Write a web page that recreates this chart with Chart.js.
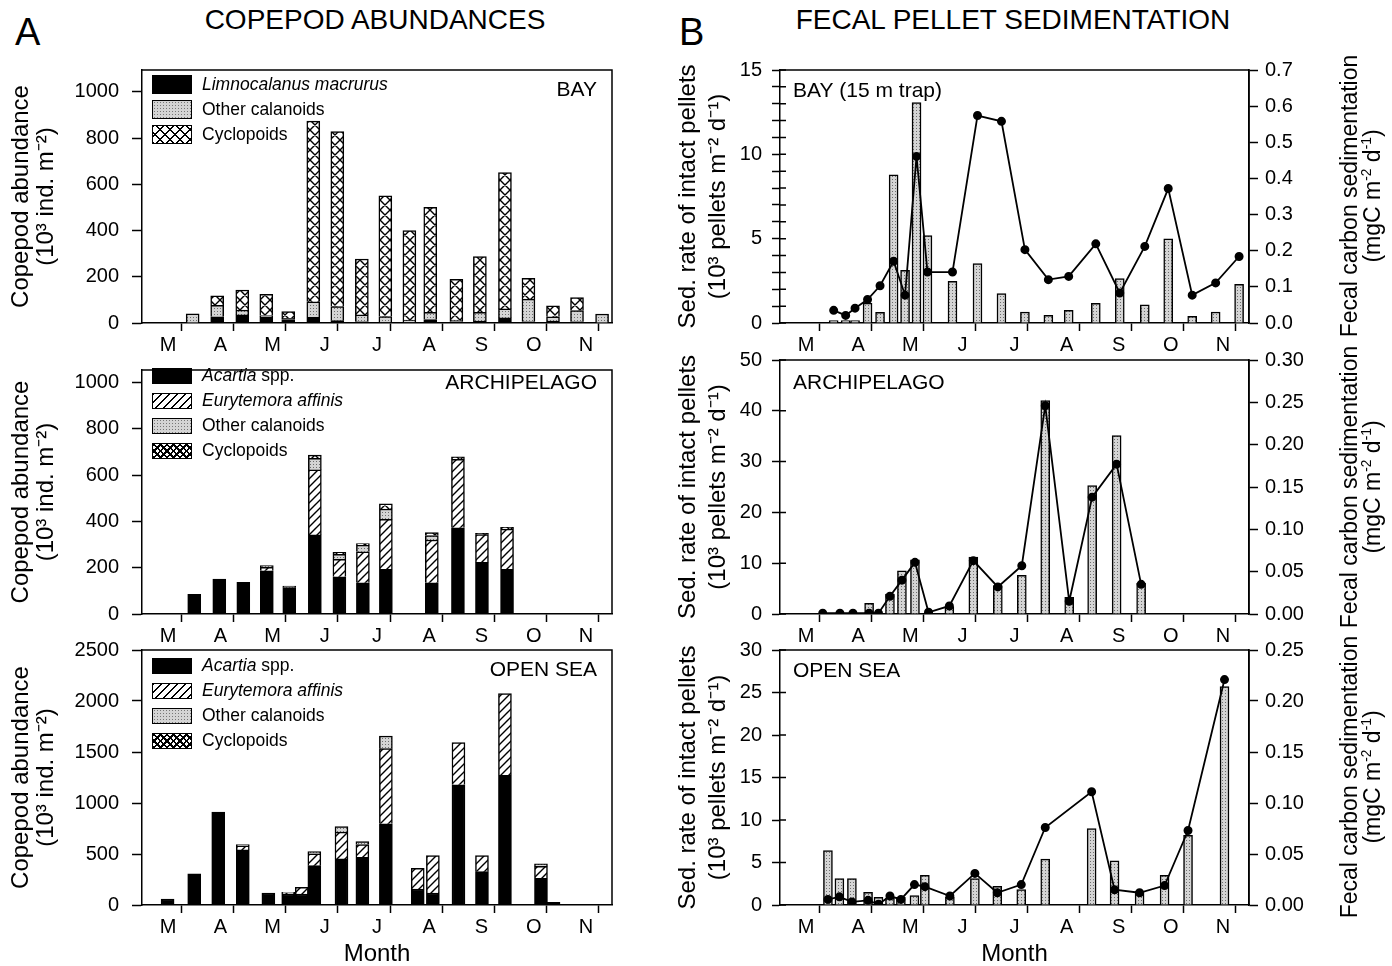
<!DOCTYPE html>
<html><head><meta charset="utf-8">
<script src="https://cdn.jsdelivr.net/npm/chart.js@4.4.1/dist/chart.umd.min.js"></script>
<style>
body{margin:0;background:#fff;width:1392px;height:966px;position:relative;overflow:hidden;font-family:"Liberation Sans",Arial,sans-serif;color:#000}
canvas{position:absolute}
.t{position:absolute;white-space:nowrap;line-height:1}
.rt{position:absolute;transform:translate(-50%,-50%) rotate(-90deg);font-size:23px;line-height:23px;text-align:center;white-space:nowrap}
sup{font-size:0.6em;vertical-align:0.65em;line-height:0}
.lg{position:absolute;left:152px}
.row{position:absolute;left:0;height:25px;display:flex;align-items:center;white-space:nowrap;font-size:17.5px}
.sw{width:38px;border:1.5px solid #000;margin-right:10px;box-sizing:content-box}
.s-black{background:#000}
.s-gray{background-color:#d4d4d4;background-image:radial-gradient(#777 0.6px,transparent 0.9px);background-size:3px 3px}
.s-hatch{background:repeating-linear-gradient(135deg,#000 0 1.4px,#fff 1.4px 5.6px)}
.s-cross{background:repeating-linear-gradient(45deg,#000 0 1.4px,transparent 1.4px 7px),repeating-linear-gradient(135deg,#000 0 1.4px,#fff 1.4px 7px)}
.s-cross2{background:repeating-linear-gradient(45deg,#000 0 2px,transparent 2px 4.6px),repeating-linear-gradient(135deg,#000 0 2px,#fff 2px 4.6px)}
</style>
</head><body>

<div class="t" style="left:15px;top:13px;font-size:38px">A</div>
<div class="t" style="left:679px;top:13px;font-size:38px">B</div>
<div class="t" style="left:375px;top:6px;font-size:28px;transform:translateX(-50%)">COPEPOD ABUNDANCES</div>
<div class="t" style="left:1013px;top:6px;font-size:28px;transform:translateX(-50%)">FECAL PELLET SEDIMENTATION</div>

<canvas id="a1" width="625" height="318" style="left:0;top:40px"></canvas>
<canvas id="a2" width="625" height="307" style="left:0;top:340px"></canvas>
<canvas id="a3" width="625" height="346" style="left:0;top:620px"></canvas>
<canvas id="b1" width="732" height="318" style="left:660px;top:40px"></canvas>
<canvas id="b2" width="732" height="317" style="left:660px;top:330px"></canvas>
<canvas id="b3" width="732" height="346" style="left:660px;top:620px"></canvas>

<div class="lg" style="top:72px">
  <div class="row" style="top:0"><div class="sw s-black" style="height:17px"></div><i>Limnocalanus macrurus</i></div>
  <div class="row" style="top:25px"><div class="sw s-gray" style="height:17px"></div>Other calanoids</div>
  <div class="row" style="top:50px"><div class="sw s-cross" style="height:17px"></div>Cyclopoids</div>
</div>
<div class="lg" style="top:363px">
  <div class="row" style="top:0"><div class="sw s-black" style="height:14px"></div><span><i>Acartia</i> spp.</span></div>
  <div class="row" style="top:25px"><div class="sw s-hatch" style="height:14px"></div><i>Eurytemora affinis</i></div>
  <div class="row" style="top:50px"><div class="sw s-gray" style="height:14px"></div>Other calanoids</div>
  <div class="row" style="top:75px"><div class="sw s-cross2" style="height:14px"></div>Cyclopoids</div>
</div>
<div class="lg" style="top:653px">
  <div class="row" style="top:0"><div class="sw s-black" style="height:14px"></div><span><i>Acartia</i> spp.</span></div>
  <div class="row" style="top:25px"><div class="sw s-hatch" style="height:14px"></div><i>Eurytemora affinis</i></div>
  <div class="row" style="top:50px"><div class="sw s-gray" style="height:14px"></div>Other calanoids</div>
  <div class="row" style="top:75px"><div class="sw s-cross2" style="height:14px"></div>Cyclopoids</div>
</div>

<div class="rt" style="left:1361px;top:196px">Fecal carbon sedimentation<br>(mgC m<sup>-2</sup> d<sup>-1</sup>)</div>
<div class="rt" style="left:1361px;top:487px">Fecal carbon sedimentation<br>(mgC m<sup>-2</sup> d<sup>-1</sup>)</div>
<div class="rt" style="left:1361px;top:777px">Fecal carbon sedimentation<br>(mgC m<sup>-2</sup> d<sup>-1</sup>)</div>

<script>
// ---------- data (x = months since 1 March) ----------
const monthLabels = ['M','A','M','J','J','A','S','O','N'];

// A — BAY copepod abundances (10^3 ind. m^-2)
const bayDates  = [0.97, 1.44, 1.92, 2.38, 2.80, 3.28, 3.74, 4.21, 4.66, 5.12, 5.52, 6.02, 6.47, 6.95, 7.40, 7.87, 8.33, 8.81];
const bayLimno  = [0, 27, 35, 27, 15, 25, 10, 5, 3, 3, 15, 5, 8, 22, 5, 8, 5, 0];
const bayOther  = [40, 50, 21, 5, 5, 67, 61, 30, 25, 10, 31, 8, 38, 39, 98, 19, 49, 39];
const bayCyclo  = [0, 41, 87, 92, 29, 782, 757, 242, 522, 387, 455, 176, 241, 590, 90, 47, 56, 0];

// A — ARCHIPELAGO
const archDates   = [1.00, 1.48, 1.94, 2.39, 2.82, 3.31, 3.78, 4.23, 4.67, 5.55, 6.05, 6.51, 6.99];
const archAcartia = [85, 151, 137, 187, 114, 342, 161, 135, 193, 135, 373, 223, 193];
const archEury    = [0, 0, 0, 15, 0, 281, 75, 134, 216, 185, 296, 120, 174];
const archOther   = [0, 0, 0, 7, 7, 50, 22, 29, 45, 19, 0, 0, 0];
const archCyclo   = [0, 0, 0, 0, 0, 14, 9, 7, 22, 13, 11, 6, 8];

// A — OPEN SEA
const openDates   = [0.49, 1.00, 1.46, 1.93, 2.42, 2.80, 3.06, 3.30, 3.82, 4.22, 4.67, 5.28, 5.57, 6.06, 6.51, 6.95, 7.64, 7.88];
const openAcartia = [59, 305, 910, 540, 118, 108, 108, 386, 452, 468, 796, 157, 118, 1179, 327, 1271, 262, 26];
const openEury    = [0, 0, 0, 40, 0, 10, 66, 115, 262, 125, 737, 203, 367, 413, 158, 802, 118, 0];
const openOther   = [0, 0, 0, 13, 0, 6, 0, 23, 56, 29, 124, 0, 0, 0, 0, 0, 23, 0];
const openCyclo   = [0, 0, 0, 0, 0, 0, 0, 0, 0, 0, 0, 0, 0, 0, 0, 0, 0, 0];

// B — BAY (15 m trap): pellets (10^3 m^-2 d^-1), carbon (mgC m^-2 d^-1)
const bayTrapDates   = [1.03, 1.26, 1.44, 1.68, 1.92, 2.18, 2.40, 2.62, 2.83, 3.31, 3.79, 4.25, 4.70, 5.15, 5.54, 6.06, 6.52, 7.00, 7.45, 7.91, 8.36, 8.81];
const bayTrapPellets = [0.14, 0.15, 0.15, 1.18, 0.63, 8.78, 3.12, 13.07, 5.19, 2.47, 3.53, 1.74, 0.65, 0.45, 0.75, 1.16, 2.64, 1.08, 4.99, 0.39, 0.65, 2.29];
const bayTrapCarbon  = [0.035, 0.021, 0.041, 0.065, 0.103, 0.171, 0.077, 0.461, 0.141, 0.141, 0.574, 0.558, 0.203, 0.120, 0.129, 0.219, 0.083, 0.212, 0.372, 0.077, 0.111, 0.184];

// B — ARCHIPELAGO
const archTrapDates   = [0.82, 1.15, 1.40, 1.71, 1.89, 2.11, 2.34, 2.59, 2.85, 3.25, 3.71, 4.18, 4.64, 5.09, 5.55, 5.99, 6.46, 6.93];
const archTrapPellets = [0, 0, 0, 2.1, 0, 3.9, 8.5, 10.65, 0, 1.45, 11.2, 5.6, 7.6, 42.0, 3.3, 25.3, 35.1, 6.05];
const archTrapCarbon  = [0.001, 0.001, 0.001, 0.001, 0.001, 0.021, 0.040, 0.061, 0.002, 0.0095, 0.063, 0.032, 0.057, 0.246, 0.015, 0.138, 0.177, 0.035];

// B — OPEN SEA
const openTrapDates   = [0.92, 1.14, 1.38, 1.69, 1.89, 2.11, 2.32, 2.58, 2.78, 3.26, 3.74, 4.17, 4.63, 5.09, 5.98, 6.42, 6.90, 7.38, 7.83, 8.53];
const openTrapPellets = [6.4, 3.1, 3.1, 1.5, 0.9, 0.8, 0.9, 1.1, 3.5, 0.9, 3.1, 2.2, 1.8, 5.4, 9.0, 5.2, 1.6, 3.5, 8.2, 25.7];
const openTrapCarbon  = [0.0055, 0.008, 0.003, 0.0046, 0.0007, 0.0088, 0.0055, 0.020, 0.018, 0.0088, 0.031, 0.012, 0.020, 0.076, 0.111, 0.015, 0.012, 0.019, 0.073, 0.221];

// ---------- styling helpers ----------
const FONT = '"Liberation Sans", Arial, sans-serif';
Chart.defaults.font.family = FONT;
Chart.defaults.color = '#000';

function pattern(kind){
  const c = document.createElement('canvas');
  const g = c.getContext('2d');
  if (kind === 'hatch'){
    c.width = c.height = 8; g.fillStyle = '#fff'; g.fillRect(0,0,8,8);
    g.strokeStyle = '#000'; g.lineWidth = 1.4; g.beginPath();
    g.moveTo(0,8); g.lineTo(8,0); g.moveTo(-2,2); g.lineTo(2,-2); g.moveTo(6,10); g.lineTo(10,6); g.stroke();
  } else if (kind === 'cross'){
    c.width = c.height = 10; g.fillStyle = '#fff'; g.fillRect(0,0,10,10);
    g.strokeStyle = '#000'; g.lineWidth = 1.4; g.beginPath();
    g.moveTo(0,10); g.lineTo(10,0); g.moveTo(0,0); g.lineTo(10,10);
    g.moveTo(-2,2); g.lineTo(2,-2); g.moveTo(8,12); g.lineTo(12,8);
    g.moveTo(-2,8); g.lineTo(2,12); g.moveTo(8,-2); g.lineTo(12,2); g.stroke();
  } else {
    c.width = c.height = 3; g.fillStyle = '#d4d4d4'; g.fillRect(0,0,3,3);
    g.fillStyle = '#6e6e6e'; g.fillRect(1,1,1,1);
  }
  return g.createPattern(c, 'repeat');
}
const P_HATCH = pattern('hatch'), P_CROSS = pattern('cross'), P_GRAY = pattern('gray');

const framePlugin = {
  id: 'frame',
  afterDatasetsDraw(chart){
    const {ctx, chartArea: a} = chart;
    ctx.save(); ctx.strokeStyle = '#000'; ctx.lineWidth = 1.5;
    ctx.beginPath(); ctx.moveTo(a.left, a.top); ctx.lineTo(a.right, a.top); ctx.lineTo(a.right, a.bottom); ctx.stroke();
    ctx.restore();
  }
};
const panelTextPlugin = {
  id: 'panelText',
  afterDraw(chart, args, o){
    if (!o || !o.text) return;
    const {ctx, chartArea: a} = chart;
    ctx.save(); ctx.font = '21px ' + FONT; ctx.fillStyle = '#000'; ctx.textBaseline = 'middle';
    if (o.side === 'right'){ ctx.textAlign = 'right'; ctx.fillText(o.text, a.right - 15, a.top + o.dy); }
    else { ctx.textAlign = 'left'; ctx.fillText(o.text, a.left + 13, a.top + o.dy); }
    ctx.restore();
  }
};
const innerTicksPlugin = {
  id: 'innerTicks',
  afterDraw(chart, args, o){
    if (!o || !o.len) return;
    const s = chart.scales.y, {ctx} = chart;
    ctx.save(); ctx.strokeStyle = '#000'; ctx.lineWidth = 1.5; ctx.beginPath();
    s.ticks.forEach(t => { const y = s.getPixelForValue(t.value); ctx.moveTo(s.right, y); ctx.lineTo(s.right + o.len, y); });
    ctx.stroke(); ctx.restore();
  }
};

function monthAxis(height, withTitle){
  return {
    type: 'linear', min: 0, max: 9, stacked: true, offset: false,
    afterBuildTicks: s => { s.ticks = Array.from({length: 19}, (_, i) => ({value: i / 2})); },
    ticks: { autoSkip: false, maxRotation: 0, minRotation: 0, padding: 2, color: '#000', font: {size: 20},
             callback: v => Number.isInteger(v) ? '' : monthLabels[Math.floor(v)] },
    grid: { drawOnChartArea: false, drawTicks: true, tickLength: 8, tickWidth: 1.5,
            tickColor: c => (c.tick && Number.isInteger(c.tick.value)) ? '#000' : 'rgba(0,0,0,0)' },
    border: { display: true, color: '#000', width: 1.5 },
    title: withTitle ? { display: true, text: 'Month', color: '#000', font: {size: 24, lineHeight: 1.0}, padding: {top: 0, bottom: 0} } : { display: false },
    afterFit: s => { s.height = height; }
  };
}

function nz(dates, vals){ return dates.map((x, i) => ({x, y: vals[i] === 0 ? null : vals[i]})); }
function pts(dates, vals){ return dates.map((x, i) => ({x, y: vals[i]})); }

const PAD_TOP = 30;

function abundanceChart(id, cfg){
  const datasets = cfg.series.map(s => ({
    label: s.label, data: nz(cfg.dates, s.values), backgroundColor: s.fill,
    borderColor: '#000', borderWidth: 1.5, barThickness: 13
  }));
  new Chart(document.getElementById(id), {
    type: 'bar',
    data: { datasets },
    options: {
      responsive: false, animation: false, devicePixelRatio: 1,
      layout: { padding: { top: PAD_TOP, right: 13, left: 0, bottom: 0 } },
      plugins: { legend: { display: false }, tooltip: { enabled: false },
                 panelText: { text: cfg.name, side: 'right', dy: cfg.dy } },
      scales: {
        x: monthAxis(cfg.axisH, cfg.month),
        y: {
          type: 'linear', min: 0, max: cfg.ymax, stacked: true, position: 'left',
          ticks: { stepSize: cfg.step, includeBounds: false, autoSkip: false, padding: 13, color: '#000', font: {size: 20},
                   callback: v => String(v) },
          grid: { drawOnChartArea: false, tickLength: 10, tickWidth: 1.5, tickColor: '#000' },
          border: { color: '#000', width: 1.5 },
          title: { display: true, text: ['Copepod abundance', '(10\u00B3 ind. m\u207B\u00B2)'], color: '#000',
                   font: {size: 24, lineHeight: 1.05}, padding: {top: 9, bottom: 0} },
          afterFit: s => { s.width = 142; }
        }
      }
    },
    plugins: [framePlugin, panelTextPlugin]
  });
}

function pelletChart(id, cfg){
  new Chart(document.getElementById(id), {
    type: 'bar',
    data: { datasets: [
      { type: 'line', label: 'Fecal carbon', data: pts(cfg.dates, cfg.carbon), yAxisID: 'y1', order: 0,
        borderColor: '#000', borderWidth: 1.8, pointRadius: 3.6, pointBackgroundColor: '#000', pointBorderColor: '#000', tension: 0 },
      { label: 'Intact pellets', data: nz(cfg.dates, cfg.pellets), yAxisID: 'y', order: 1,
        backgroundColor: P_GRAY, borderColor: '#000', borderWidth: 1.5, barThickness: 9 }
    ]},
    options: {
      responsive: false, animation: false, devicePixelRatio: 1,
      layout: { padding: { top: PAD_TOP, right: 0, left: 0, bottom: 0 } },
      plugins: { legend: { display: false }, tooltip: { enabled: false },
                 panelText: { text: cfg.name, side: 'left', dy: cfg.dy }, innerTicks: { len: 6 } },
      scales: {
        x: Object.assign(monthAxis(cfg.axisH, cfg.month), { stacked: false }),
        y: {
          type: 'linear', min: 0, max: cfg.ymax, position: 'left',
          ticks: { stepSize: cfg.step, maxTicksLimit: 40, autoSkip: false, padding: 10, color: '#000', font: {size: 20},
                   callback: v => (Math.round(v) % cfg.labelEvery === 0) ? String(Math.round(v)) : '' },
          grid: { drawOnChartArea: false, tickLength: 8, tickWidth: 1.5, tickColor: '#000' },
          border: { color: '#000', width: 1.5 },
          title: { display: true, text: ['Sed. rate of intact pellets', '(10\u00B3 pellets m\u207B\u00B2 d\u207B\u00B9)'], color: '#000',
                   font: {size: 24, lineHeight: 1.25}, padding: {top: 13, bottom: 0} },
          afterFit: s => { s.width = 120; }
        },
        y1: {
          type: 'linear', min: 0, max: cfg.y1max, position: 'right',
          ticks: { stepSize: cfg.y1step, autoSkip: false, padding: 7, color: '#000', font: {size: 20},
                   callback: v => v.toFixed(cfg.dec) },
          grid: { drawOnChartArea: false, tickLength: 9, tickWidth: 1.5, tickColor: '#000' },
          border: { color: '#000', width: 1.5 },
          afterFit: s => { s.width = 143; }
        }
      }
    },
    plugins: [framePlugin, panelTextPlugin, innerTicksPlugin]
  });
}

// ---------- panels ----------
abundanceChart('a1', { name: 'BAY', dy: 20, axisH: 35, month: false, ymax: 1095, step: 200, dates: bayDates, series: [
  { label: 'Limnocalanus macrurus', values: bayLimno, fill: '#000' },
  { label: 'Other calanoids', values: bayOther, fill: P_GRAY },
  { label: 'Cyclopoids', values: bayCyclo, fill: P_CROSS } ] });

abundanceChart('a2', { name: 'ARCHIPELAGO', dy: 13, axisH: 33, month: false, ymax: 1055, step: 200, dates: archDates, series: [
  { label: 'Acartia spp.', values: archAcartia, fill: '#000' },
  { label: 'Eurytemora affinis', values: archEury, fill: P_HATCH },
  { label: 'Other calanoids', values: archOther, fill: P_GRAY },
  { label: 'Cyclopoids', values: archCyclo, fill: P_CROSS } ] });

abundanceChart('a3', { name: 'OPEN SEA', dy: 20, axisH: 61, month: true, ymax: 2500, step: 500, dates: openDates, series: [
  { label: 'Acartia spp.', values: openAcartia, fill: '#000' },
  { label: 'Eurytemora affinis', values: openEury, fill: P_HATCH },
  { label: 'Other calanoids', values: openOther, fill: P_GRAY },
  { label: 'Cyclopoids', values: openCyclo, fill: P_CROSS } ] });

pelletChart('b1', { name: 'BAY (15 m trap)', dy: 21, axisH: 35, month: false, ymax: 15, step: 1, labelEvery: 5,
  y1max: 0.7, y1step: 0.1, dec: 1, dates: bayTrapDates, pellets: bayTrapPellets, carbon: bayTrapCarbon });

pelletChart('b2', { name: 'ARCHIPELAGO', dy: 23, axisH: 33, month: false, ymax: 50, step: 10, labelEvery: 10,
  y1max: 0.30, y1step: 0.05, dec: 2, dates: archTrapDates, pellets: archTrapPellets, carbon: archTrapCarbon });

pelletChart('b3', { name: 'OPEN SEA', dy: 21, axisH: 61, month: true, ymax: 30, step: 5, labelEvery: 5,
  y1max: 0.25, y1step: 0.05, dec: 2, dates: openTrapDates, pellets: openTrapPellets, carbon: openTrapCarbon });
</script>
</body></html>
